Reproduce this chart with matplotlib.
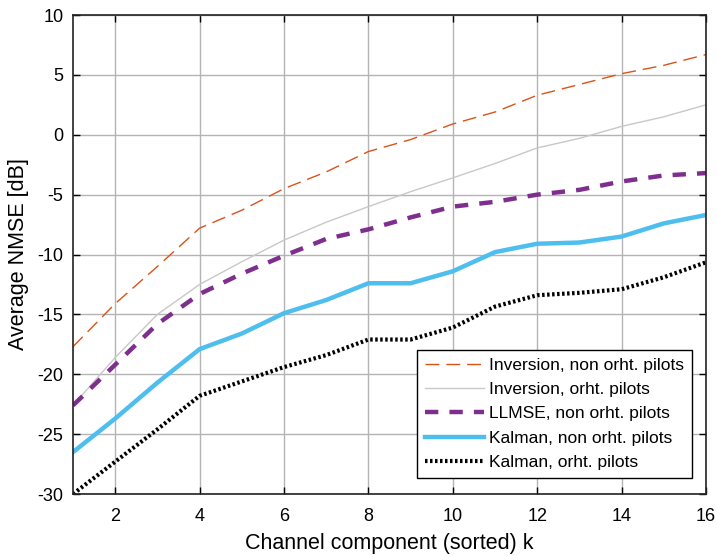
import matplotlib
matplotlib.use("Agg")
import matplotlib.pyplot as plt

plt.rcParams['font.family'] = ['Liberation Sans', 'DejaVu Sans']
plt.rcParams['axes.unicode_minus'] = False

k = list(range(1, 17))
inv_nonorth = [-17.7, -14.1, -11.0, -7.8, -6.3, -4.5, -3.1, -1.4, -0.4, 0.9, 1.9, 3.3, 4.2, 5.1, 5.8, 6.7]
inv_orth = [-22.6, -18.6, -15.0, -12.5, -10.6, -8.8, -7.3, -6.0, -4.75, -3.6, -2.4, -1.1, -0.3, 0.7, 1.5, 2.5]
llmse_nonorth = [-22.6, -19.2, -15.8, -13.3, -11.6, -10.1, -8.7, -7.9, -6.9, -6.0, -5.6, -5.0, -4.6, -3.9, -3.4, -3.2]
kal_nonorth = [-26.5, -23.7, -20.7, -17.9, -16.6, -14.9, -13.8, -12.4, -12.4, -11.4, -9.8, -9.1, -9.0, -8.5, -7.4, -6.7]
kal_orth = [-30.0, -27.3, -24.6, -21.8, -20.6, -19.4, -18.4, -17.1, -17.1, -16.1, -14.35, -13.4, -13.2, -12.9, -11.9, -10.65]

fig = plt.figure(figsize=(7.18, 5.56), dpi=100)
ax = fig.add_axes([0.1017, 0.1115, 0.8816, 0.8615])

ax.plot(k, inv_nonorth, color='#D95319', lw=1.0, dashes=(10, 5), label='Inversion, non orht. pilots')
ax.plot(k, inv_orth, color='#c8c8c8', lw=1.0, label='Inversion, orht. pilots')
ax.plot(k, llmse_nonorth, color='#7E2F8E', lw=3.2, dashes=(3, 2.5), label='LLMSE, non orht. pilots')
ax.plot(k, kal_nonorth, color='#4DBEEE', lw=3.2, label='Kalman, non orht. pilots')
ax.plot(k, kal_orth, color='black', lw=3.0, dashes=(0.6, 0.6), label='Kalman, orht. pilots')

ax.set_xlim(1, 16)
ax.set_ylim(-30, 10)
ax.set_xticks([2, 4, 6, 8, 10, 12, 14, 16])
ax.set_yticks([-30, -25, -20, -15, -10, -5, 0, 5, 10])
ax.grid(True, color='#b4b4b4', lw=1.0)
ax.set_axisbelow(True)
ax.tick_params(direction='in', top=True, right=True, labelsize=13, length=5, width=1)
ax.tick_params(axis='x', pad=10)
ax.tick_params(axis='y', pad=7)
for s in ax.spines.values():
    s.set_linewidth(1.2)
    s.set_color('#222222')

ax.set_xlabel('Channel component (sorted) k', fontsize=15.5, labelpad=6)
ax.set_ylabel('Average NMSE [dB]', fontsize=15.5, labelpad=6)

leg = ax.legend(loc='lower right', bbox_to_anchor=(0.983, 0.027), fontsize=12.5,
                frameon=True, fancybox=False, edgecolor='black', framealpha=1,
                handlelength=3.4, borderpad=0.45, labelspacing=0.52, handletextpad=0.3,
                borderaxespad=0.2)
leg.get_frame().set_linewidth(1.0)

fig.savefig('out.png', dpi=100)
